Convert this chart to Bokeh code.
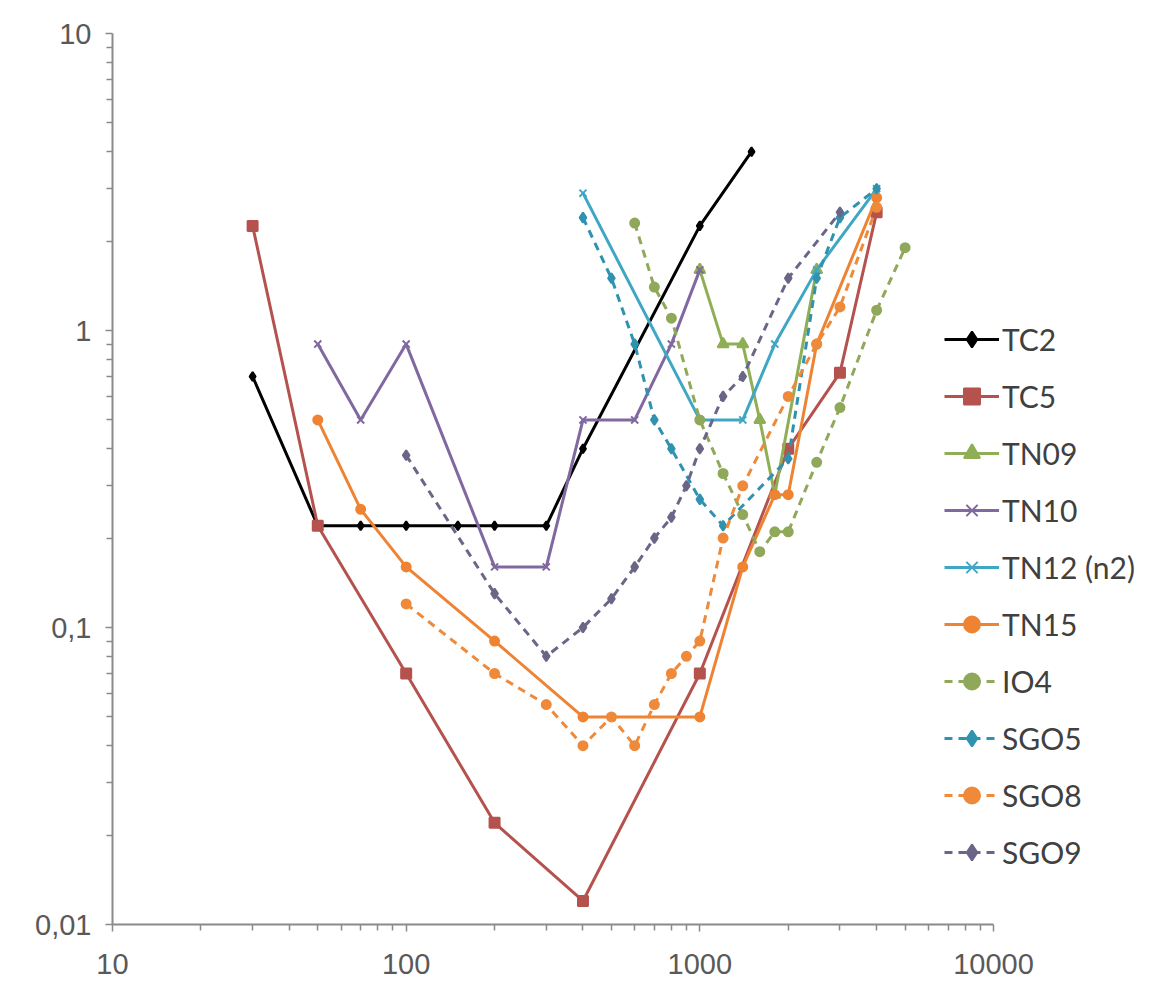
from bokeh.plotting import figure
from bokeh.models import FixedTicker, CustomJSTickFormatter, Legend, LegendItem
from bokeh.embed import file_html
from bokeh.resources import INLINE

# ---- data ----
tc2_x = [30, 50, 70, 100, 150, 200, 300, 400, 1000, 1500]
tc2_y = [0.7, 0.22, 0.22, 0.22, 0.22, 0.22, 0.22, 0.4, 2.25, 4.0]

tc5_x = [30, 50, 100, 200, 400, 1000, 2000, 3000, 4000]
tc5_y = [2.25, 0.22, 0.07, 0.022, 0.012, 0.07, 0.4, 0.72, 2.5]

tn09_x = [1000, 1200, 1400, 1600, 1800, 2500]
tn09_y = [1.6, 0.9, 0.9, 0.5, 0.28, 1.6]

tn10_x = [50, 70, 100, 200, 300, 400, 600, 800, 1000]
tn10_y = [0.9, 0.5, 0.9, 0.16, 0.16, 0.5, 0.5, 0.9, 1.6]

tn12_x = [400, 1000, 1400, 1800, 2500, 4000]
tn12_y = [2.9, 0.5, 0.5, 0.9, 1.6, 3.0]

tn15_x = [50, 70, 100, 200, 400, 1000, 1400, 1800, 2000, 2500, 4000]
tn15_y = [0.5, 0.25, 0.16, 0.09, 0.05, 0.05, 0.16, 0.28, 0.28, 0.9, 2.8]

io4_x = [600, 700, 800, 1000, 1200, 1400, 1600, 1800, 2000, 2500, 3000, 4000, 5000]
io4_y = [2.3, 1.4, 1.1, 0.5, 0.33, 0.24, 0.18, 0.21, 0.21, 0.36, 0.55, 1.17, 1.9]

sgo5_x = [400, 500, 600, 700, 800, 1000, 1200, 2000, 2500, 3000, 4000]
sgo5_y = [2.4, 1.5, 0.9, 0.5, 0.4, 0.27, 0.22, 0.37, 1.5, 2.4, 3.0]

sgo8_x = [100, 200, 300, 400, 500, 600, 700, 800, 900, 1000, 1200, 1400, 2000, 2500, 3000, 4000]
sgo8_y = [0.12, 0.07, 0.055, 0.04, 0.05, 0.04, 0.055, 0.07, 0.08, 0.09, 0.2, 0.3, 0.6, 0.9, 1.2, 2.6]

sgo9_x = [100, 200, 300, 400, 500, 600, 700, 800, 900, 1000, 1200, 1400, 2000, 3000]
sgo9_y = [0.38, 0.13, 0.08, 0.1, 0.125, 0.16, 0.2, 0.235, 0.3, 0.4, 0.6, 0.7, 1.5, 2.5]

series = [
    ("TC2", tc2_x, tc2_y, "#000000", "solid", "diamond", 9),
    ("TC5", tc5_x, tc5_y, "#B5524E", "solid", "square", 10),
    ("TN09", tn09_x, tn09_y, "#8FAE55", "solid", "triangle", 11),
    ("TN10", tn10_x, tn10_y, "#8068A0", "solid", "x", 10),
    ("TN12 (n2)", tn12_x, tn12_y, "#3FA7C4", "solid", "x", 10),
    ("TN15", tn15_x, tn15_y, "#EE8433", "solid", "circle", 9),
    ("IO4", io4_x, io4_y, "#8FA85A", "8 6", "circle", 9),
    ("SGO5", sgo5_x, sgo5_y, "#2F93B0", "8 6", "diamond", 10),
    ("SGO8", sgo8_x, sgo8_y, "#EE8A3A", "8 6", "circle", 9),
    ("SGO9", sgo9_x, sgo9_y, "#6A6688", "8 6", "diamond", 10),
]

x_major = [10, 100, 1000, 10000]
y_major = [0.01, 0.1, 1, 10]

# axis spans 10..10000 over 881 px; the frame extends further right to host the legend
axis_px = 881
frame_w = 1036
x_end = 10 ** (1 + 3 * frame_w / axis_px)

p = figure(frame_width=frame_w, frame_height=891,
           x_axis_type="log", y_axis_type="log",
           x_range=(10, x_end), y_range=(0.01, 10),
           min_border_left=112, min_border_right=0,
           min_border_top=33, min_border_bottom=64,
           output_backend="svg", toolbar_location=None,
           background_fill_color="white", border_fill_color="white")
p.grid.visible = False
p.outline_line_color = None

x_minor = [m * d for d in [10, 100, 1000] for m in range(2, 10)]
y_minor = [m * d for d in [0.01, 0.1, 1] for m in range(2, 10)]
p.xaxis.ticker = FixedTicker(ticks=x_major, minor_ticks=x_minor)
p.yaxis.ticker = FixedTicker(ticks=y_major, minor_ticks=y_minor)
p.xaxis.bounds = (10, 10000)
p.yaxis.formatter = CustomJSTickFormatter(code="return tick.toString().replace('.', ',');")
p.xaxis.formatter = CustomJSTickFormatter(code="return tick.toString();")

for ax in [p.xaxis, p.yaxis]:
    ax.axis_line_color = "#8a8a8a"
    ax.axis_line_width = 2
    ax.major_tick_line_color = "#8a8a8a"
    ax.minor_tick_line_color = "#8a8a8a"
    ax.major_tick_line_width = 1.5
    ax.minor_tick_line_width = 1.5
    ax.major_tick_out = 7
    ax.major_tick_in = 0
    ax.minor_tick_out = 6
    ax.minor_tick_in = 0
    ax.major_label_text_font = "Liberation Sans"
    ax.major_label_text_font_size = "29px"
    ax.major_label_text_color = "#595959"
p.xaxis.major_label_standoff = 22
p.yaxis.major_label_standoff = 14

items = []
for name, xs, ys, color, dash, marker, size in series:
    r1 = p.line(xs, ys, line_color=color, line_width=3, line_dash=dash)
    r2 = p.scatter(xs, ys, marker=marker, size=size, fill_color=color,
                   line_color=color, line_width=2)
    items.append(LegendItem(label=name, renderers=[r1, r2]))

legend = Legend(items=items, location=(832, 52))
legend.glyph_width = 55
legend.glyph_height = 40
legend.label_height = 40
legend.spacing = 17
legend.padding = 4
legend.margin = 0
legend.label_standoff = 3
legend.label_text_font = "Lato"
legend.label_text_font_size = "30px"
legend.label_text_color = "#404040"
legend.border_line_color = None
legend.background_fill_alpha = 0
p.add_layout(legend, "center")

open("out.html", "w").write(file_html(p, INLINE))
